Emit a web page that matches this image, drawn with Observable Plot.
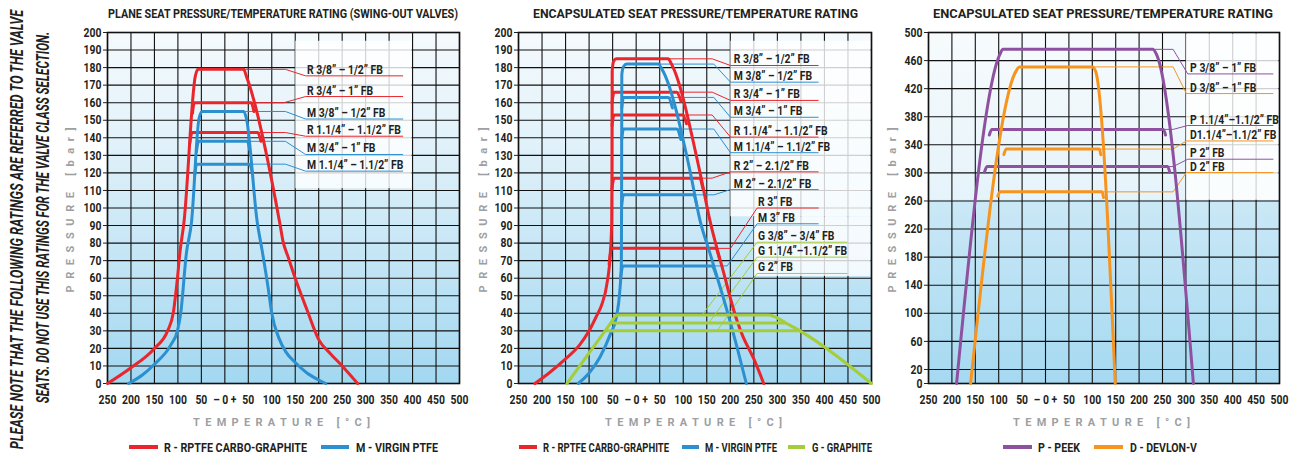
<!DOCTYPE html>
<html><head><meta charset="utf-8">
<script src="https://cdn.jsdelivr.net/npm/d3@7"></script>
<script src="https://cdn.jsdelivr.net/npm/@observablehq/plot@0.6"></script>
<style>
html,body{margin:0;padding:0;background:#fff;}
#chart{position:relative;width:1295px;height:458px;overflow:hidden;}
#chart svg.panel{position:absolute;top:22px;}
</style></head>
<body><div id="chart"></div>
<script>
const FONT = 'Roboto,"Liberation Sans",sans-serif';
const RED = "#e8262b", BLUE = "#2b8fd0", GREEN = "#a5cd39", PURPLE = "#8d51a0", ORANGE = "#f7941d";

// ---------- axes ----------
const xTickValues = [-250,-200,-150,-100,-50,0,50,100,150,200,250,300,350,400,450,500];
const xTickFormat = d => d === 0 ? "– 0 +" : String(Math.abs(d));
const yTicksRating = [0,10,20,30,40,50,60,70,80,90,100,110,120,130,140,150,160,170,180,190,200];
const yTicksHigh = [0,20,60,100,140,180,220,260,300,340,380,420,460,500];

// ---------- panel 1 : plane seat ----------
const planeRedEnvelope = [[-250,0],[-200,9],[-150,20],[-122,30],[-110,40],[-101,60],[-96,74],[-87,92],[-63,175],[-57,179],[40,179],[46,175],[118,90],[124,81],[135,72],[150,60],[175,42],[200,25],[225,17],[250,10],[283,0]];
const planeBlueEnvelope = [[-205,0],[-175,5],[-150,11],[-115,22],[-101,30],[-94,40],[-82,74],[-71,92],[-55,151],[-48,155],[40,155],[46,151],[69,92],[80,75],[92,55],[100,40],[115,26],[130,18],[150,12],[175,6],[200,2],[215,0]];
const planeRedPlateaus = [
  [[-69,154],[-65,160],[56,160],[62,155]],
  [[-74.5,137],[-70,143],[70,143],[77,138]]
];
const planeBluePlateaus = [
  [[-60.5,132],[-56,138],[48,138],[53,133]],
  [[-64,119],[-60,125],[53,125],[58.5,120]]
];
const planeLeaders = [
  {color: RED,  pts: [[44,179],[129,179],[172,175.3],[379,175.3]]},
  {color: RED,  pts: [[58,160],[126,160],[172,163.5],[379,163.5]]},
  {color: BLUE, pts: [[44,155],[129,155],[172,150.7],[379,150.7]]},
  {color: RED,  pts: [[73,143],[129,143],[172,140.9],[379,140.9]]},
  {color: BLUE, pts: [[51,138],[129,138],[172,130.5],[379,130.5]]},
  {color: BLUE, pts: [[56,125],[129,125],[172,121],[379,121]]}
];
const planeLabels = [
  {text: "R 3/8” – 1/2” FB", x: 175, y: 175.3},
  {text: "R 3/4” – 1” FB", x: 175, y: 163.5},
  {text: "M 3/8” – 1/2” FB", x: 175, y: 150.7},
  {text: "R 1.1/4” – 1.1/2” FB", x: 175, y: 140.9},
  {text: "M 3/4” – 1” FB", x: 175, y: 130.5},
  {text: "M 1.1/4” – 1.1/2” FB", x: 175, y: 121}
];
const planeBoxes = [{x1: 151, x2: 399, y1: 111, y2: 195}];

// ---------- panel 2 : encapsulated seat ----------
const encRedEnvelope = [[-215,0],[-185,6],[-150,14],[-120,22],[-100,30],[-85,38],[-73,45],[-62,57],[-55,74],[-52,92],[-51.5,120],[-51,178],[-48,183.5],[-42,185],[68,185],[75,182],[135,121],[157,92.5],[185,64],[214,36],[225,28],[250,14],[271,0]];
const encBlueEnvelope = [[-123,0],[-100,6],[-77,15],[-55,28],[-42,38],[-35,52],[-31.5,68],[-31,100],[-30.5,176],[-27,180.5],[-20,182],[47,182],[55,179],[114,121.6],[136,92.5],[157,74],[185,49],[200,35],[214,21],[234,0]];
const encGreenEnvelope = [[-147,0],[-66,30],[-54,34.5],[-44,38.3],[-38,39],[282,39],[292,38.3],[318,34.5],[348,30],[500,0]];
const encRedPlateaus = [
  [[-51.2,160],[-47,166],[86,166],[95,161]],
  [[-51.3,147],[-47,153],[99,153],[107,148]],
  [[-51.5,111],[-47,117],[134,117],[142,111]],
  [[-57.5,68],[-52,77],[168,77],[177,71]]
];
const encBluePlateaus = [
  [[-30.6,157],[-27,163],[68,163],[77,157]],
  [[-30.7,139],[-27,145],[86,145],[95,139]],
  [[-30.9,101],[-27,107.5],[121,107.5],[129,101.5]],
  [[-33.2,60],[-28,67],[160,67],[171,61]]
];
const encGreenPlateaus = [
  [[-54,34.5],[318,34.5]],
  [[-66,30],[348,30]]
];
const encLeaders = [
  {color: RED,   pts: [[70,185],[161.5,185],[200.4,181.2],[386.7,181.2]]},
  {color: BLUE,  pts: [[50,182],[165,182],[200.4,171.7],[386.7,171.7]]},
  {color: RED,   pts: [[88,166],[161.5,166],[200.4,161.3],[386.7,161.3]]},
  {color: BLUE,  pts: [[70,163],[165,163],[200.4,151.7],[386.7,151.7]]},
  {color: RED,   pts: [[101,153],[161.5,153],[200.4,140.4],[386.7,140.4]]},
  {color: BLUE,  pts: [[88,145],[165,145],[200.4,131.5],[386.7,131.5]]},
  {color: RED,   pts: [[136,117],[161.5,117],[200.4,120.6],[386.7,120.6]]},
  {color: BLUE,  pts: [[123,107.5],[165,107.5],[200.4,110.5],[386.7,110.5]]},
  {color: RED,   pts: [[170,77],[200.4,77],[257,100],[386.7,100]]},
  {color: BLUE,  pts: [[163,67],[193.4,67],[257,91],[386.7,91]]},
  {color: GREEN, pts: [[140,39],[257,80.5],[448,80.5]]},
  {color: GREEN, pts: [[154,34.5],[257,72],[448,72]]},
  {color: GREEN, pts: [[172,30],[257,62.7],[448,62.7]]}
];
const encLabels = [
  {text: "R 3/8” – 1/2” FB", x: 207.5, y: 181.2},
  {text: "M 3/8” – 1/2” FB", x: 207.5, y: 171.7},
  {text: "R 3/4” – 1” FB", x: 207.5, y: 161.3},
  {text: "M 3/4” – 1” FB", x: 207.5, y: 151.7},
  {text: "R 1.1/4” – 1.1/2” FB", x: 207.5, y: 140.4},
  {text: "M 1.1/4” – 1.1/2” FB", x: 207.5, y: 131.5},
  {text: "R 2” – 2.1/2” FB", x: 207.5, y: 120.6},
  {text: "M 2” – 2.1/2” FB", x: 207.5, y: 110.5},
  {text: "R 3” FB", x: 259, y: 100},
  {text: "M 3” FB", x: 259, y: 91},
  {text: "G 3/8” – 3/4” FB", x: 259, y: 80.5},
  {text: "G 1.1/4”–1.1/2” FB", x: 259, y: 72},
  {text: "G 2” FB", x: 259, y: 62.7}
];
const encBoxes = [{x1: 201, x2: 499, y1: 95, y2: 195}, {x1: 251, x2: 499, y1: 61, y2: 95}];

// ---------- panel 3 : PEEK / DEVLON ----------
const peekEnvelope = [[-190,0],[-98,468],[-91,476],[229,476],[237,469],[316,0]];
const devlonEnvelope = [[-160,0],[-63,445],[-56,451],[100,451],[107,445],[149,0]];
const peekPlateaus = [
  [[-120,354],[-115,362],[252,362],[256.4,354]],
  [[-130.4,301],[-125,309],[261,309],[265.3,301]]
];
const devlonPlateaus = [
  [[-89,326],[-84,334],[115,334],[118.2,326]],
  [[-101.8,267],[-97,273],[121,273],[124,265]]
];
const highLeaders = [
  {color: PURPLE, pts: [[229,476],[272.7,476],[304,441],[486,441]]},
  {color: ORANGE, pts: [[100,451],[272.7,451],[301,413],[486,413]]},
  {color: PURPLE, pts: [[252,362],[272.7,362],[304,367.5],[486,367.5]]},
  {color: ORANGE, pts: [[115,334],[272.7,334],[301,345.5],[486,345.5]]},
  {color: PURPLE, pts: [[261,309],[272.7,309],[304,319.5],[486,319.5]]},
  {color: ORANGE, pts: [[121,273],[272.7,273],[301,300.5],[486,300.5]]}
];
const highLabels = [
  {text: "P 3/8” – 1” FB", x: 309, y: 441},
  {text: "D 3/8” – 1” FB", x: 309, y: 413},
  {text: "P 1.1/4”–1.1/2” FB", x: 309, y: 367.5},
  {text: "D1.1/4”–1.1/2” FB", x: 309, y: 345.5},
  {text: "P 2” FB", x: 309, y: 319.5},
  {text: "D 2” FB", x: 309, y: 300.5}
];
const highBoxes = [{x1: 301, x2: 499, y1: 261, y2: 498}];

// ---------- texts ----------
const titles = [
  {text: "PLANE SEAT PRESSURE/TEMPERATURE RATING (SWING-OUT VALVES)", cx: 283, len: 350},
  {text: "ENCAPSULATED SEAT PRESSURE/TEMPERATURE RATING", cx: 695.5, len: 325},
  {text: "ENCAPSULATED SEAT PRESSURE/TEMPERATURE RATING", cx: 1103, len: 340}
];
const xTitles = [{x: 193, len: 177}, {x: 605, len: 177}, {x: 1013, len: 177}];
const yTitles = [{x: 74}, {x: 487}, {x: 896}];
const legendItems = [
  {color: RED, sx: 129, ex: 158, tx: 164, len: 143, text: "R - RPTFE CARBO-GRAPHITE"},
  {color: BLUE, sx: 321, ex: 349, tx: 356, len: 82, text: "M - VIRGIN PTFE"},
  {color: RED, sx: 519, ex: 537, tx: 543, len: 126, text: "R - RPTFE CARBO-GRAPHITE"},
  {color: BLUE, sx: 682, ex: 699, tx: 705, len: 72, text: "M - VIRGIN PTFE"},
  {color: GREEN, sx: 788, ex: 805, tx: 812, len: 60, text: "G - GRAPHITE"},
  {color: PURPLE, sx: 1003, ex: 1032, tx: 1038, len: 42, text: "P - PEEK"},
  {color: ORANGE, sx: 1094, ex: 1123, tx: 1130, len: 67, text: "D - DEVLON-V"}
];
const noteLines = [
  {text: "PLEASE NOTE THAT THE FOLLOWING RATINGS ARE REFERRED TO THE VALVE", x: 22.7, cy: 229.5, len: 440},
  {text: "SEATS.  DO NOT USE THIS RATINGS FOR THE VALVE CLASS SELECTION.", x: 49.3, cy: 217.5, len: 372}
];

// ---------- helpers ----------
const toRows = (pts, key, color) => pts.map(([x, y]) => ({key, color, x, y}));
function curveRows(groups) {
  const out = [];
  groups.forEach(([prefix, color, list]) => list.forEach((pts, i) => out.push(...toRows(pts, prefix + i, color))));
  return out;
}
function leaderRows(list) {
  const out = [];
  list.forEach((l, i) => out.push(...toRows(l.pts, "L" + i, l.color)));
  return out;
}
// squeeze glyphs horizontally (about each text's anchor) to imitate the condensed face of the original;
// Plot positions its texts with a translate transform, so a trailing scale keeps the anchor in place
function condense(root, k) {
  root.querySelectorAll("text").forEach(t => {
    const tr = t.getAttribute("transform") || "";
    t.setAttribute("transform", `${tr} scale(${k},1)`);
  });
}

const chart = document.getElementById("chart");

function drawPanel(cfg) {
  const svg = Plot.plot({
    width: 410, height: 415,
    marginLeft: cfg.ml, marginRight: cfg.mr, marginTop: 10, marginBottom: 54,
    x: {domain: [-250, 500]},
    y: {domain: [0, cfg.ymax]},
    color: {type: "identity"},
    style: {fontFamily: FONT, background: "transparent", color: "#231f20", overflow: "visible"},
    marks: [
      Plot.frame({fill: `url(#${cfg.id})`, stroke: "none"}),
      Plot.ruleX(xTickValues, {stroke: "#111", strokeWidth: 1.1}),
      Plot.ruleY(cfg.yTicks, {stroke: "#111", strokeWidth: 1.1}),
      Plot.rect(cfg.boxes, {x1: "x1", x2: "x2", y1: "y1", y2: "y2", fill: "#ffffff", fillOpacity: 0.8}),
      Plot.frame({stroke: "#111", strokeWidth: 1.6}),
      Plot.axisX({ticks: xTickValues, tickFormat: xTickFormat, tickSize: 0, tickPadding: 11, fontSize: 13, fontWeight: "bold", label: null}),
      Plot.axisY({ticks: cfg.yTicks, tickSize: 4, tickPadding: 2, fontSize: 13, fontWeight: "bold", label: null}),
      Plot.line(cfg.leaders, {x: "x", y: "y", z: "key", stroke: "color", strokeWidth: 1}),
      Plot.line(cfg.curves, {x: "x", y: "y", z: "key", stroke: "color", strokeWidth: 3, curve: "monotone-x", strokeLinejoin: "round"}),
      Plot.text(cfg.labels, {x: "x", y: "y", text: "text", textAnchor: "start", lineAnchor: "bottom", dy: -2, fontSize: 13, fontWeight: "bold", fill: "#231f20"})
    ]
  });
  svg.classList.add("panel");
  svg.style.left = cfg.left + "px";
  const defs = document.createElementNS("http://www.w3.org/2000/svg", "defs");
  defs.innerHTML = `<linearGradient id="${cfg.id}" x1="0" y1="0" x2="0" y2="1">${cfg.stops.map(([o, c]) => `<stop offset="${o}" stop-color="${c}"/>`).join("")}</linearGradient>`;
  svg.insertBefore(defs, svg.firstChild);
  chart.appendChild(svg);
  condense(svg, 0.8);
}

const ratingStops = [[0, "#f5fafd"], [0.3, "#e2f2fa"], [0.6, "#c8e7f6"], [1, "#a2d8f1"]];
const highStops = [[0, "#f7fbfd"], [0.475, "#e5f3fa"], [0.48, "#cbe8f6"], [1, "#a5d9f1"]];

drawPanel({
  id: "bg-plane", left: 55, ml: 52, mr: 6, ymax: 200, yTicks: yTicksRating, stops: ratingStops,
  boxes: planeBoxes, leaders: leaderRows(planeLeaders), labels: planeLabels,
  curves: curveRows([["Renv", RED, [planeRedEnvelope]], ["Rp", RED, planeRedPlateaus],
                     ["Benv", BLUE, [planeBlueEnvelope]], ["Bp", BLUE, planeBluePlateaus]])
});
drawPanel({
  id: "bg-enc", left: 470, ml: 48, mr: 9, ymax: 200, yTicks: yTicksRating, stops: ratingStops,
  boxes: encBoxes, leaders: leaderRows(encLeaders), labels: encLabels,
  curves: curveRows([["Renv", RED, [encRedEnvelope]], ["Rp", RED, encRedPlateaus],
                     ["Benv", BLUE, [encBlueEnvelope]], ["Bp", BLUE, encBluePlateaus],
                     ["Genv", GREEN, [encGreenEnvelope]], ["Gp", GREEN, encGreenPlateaus]])
});
drawPanel({
  id: "bg-high", left: 880, ml: 48, mr: 11, ymax: 500, yTicks: yTicksHigh, stops: highStops,
  boxes: highBoxes, leaders: leaderRows(highLeaders), labels: highLabels,
  curves: curveRows([["Penv", PURPLE, [peekEnvelope]], ["Pp", PURPLE, peekPlateaus],
                     ["Denv", ORANGE, [devlonEnvelope]], ["Dp", ORANGE, devlonPlateaus]])
});

// ---------- overlay texts ----------
const ov = d3.select(chart).append("svg")
  .attr("width", 1295).attr("height", 458)
  .style("position", "absolute").style("left", "0px").style("top", "0px")
  .style("font-family", FONT);

ov.selectAll("text.title").data(titles).join("text").attr("class", "title")
  .attr("x", d => d.cx).attr("y", 18.3).attr("text-anchor", "middle")
  .attr("textLength", d => d.len).attr("lengthAdjust", "spacingAndGlyphs")
  .attr("font-size", 13.5).attr("font-weight", "bold").attr("fill", "#231f20")
  .text(d => d.text);

ov.selectAll("text.xt").data(xTitles).join("text").attr("class", "xt")
  .attr("x", d => d.x).attr("y", 426)
  .attr("textLength", d => d.len).attr("lengthAdjust", "spacing")
  .attr("font-size", 11).attr("font-weight", "bold").attr("fill", "#9d9fa2")
  .text("TEMPERATURE [°C]");

ov.selectAll("text.yt").data(yTitles).join("text").attr("class", "yt")
  .attr("transform", d => `translate(${d.x},210) rotate(-90)`).attr("text-anchor", "middle")
  .attr("textLength", 165).attr("lengthAdjust", "spacing")
  .attr("font-size", 11).attr("font-weight", "bold").attr("fill", "#9d9fa2")
  .text("PRESSURE [bar]");

ov.selectAll("line.sw").data(legendItems).join("line").attr("class", "sw")
  .attr("x1", d => d.sx).attr("x2", d => d.ex).attr("y1", 447).attr("y2", 447)
  .attr("stroke", d => d.color).attr("stroke-width", 4);
ov.selectAll("text.lg").data(legendItems).join("text").attr("class", "lg")
  .attr("x", d => d.tx).attr("y", 451.5)
  .attr("textLength", d => d.len).attr("lengthAdjust", "spacingAndGlyphs")
  .attr("font-size", 12.5).attr("font-weight", "bold").attr("fill", "#231f20")
  .text(d => d.text);

// rotated note: scaled horizontally (in its own frame) to the reference length
ov.selectAll("text.note").data(noteLines).join("text").attr("class", "note")
  .attr("text-anchor", "middle")
  .attr("font-size", 19).attr("font-style", "italic").attr("font-weight", "bold").attr("fill", "#231f20")
  .text(d => d.text)
  .each(function(d) {
    const w = this.getComputedTextLength();
    const s = w > 0 ? d.len / w : 1;
    this.setAttribute("transform", `translate(${d.x},${d.cy}) rotate(-90) scale(${s.toFixed(4)},1)`);
  });
</script>
</body></html>
